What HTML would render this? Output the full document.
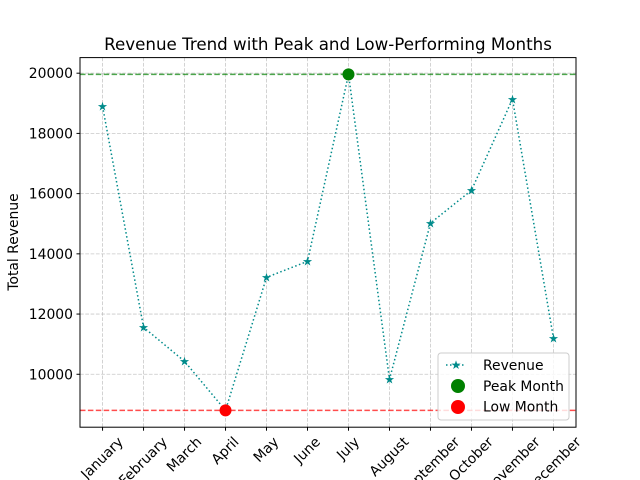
<!DOCTYPE html>
<html><head><meta charset="utf-8"><style>body{margin:0;background:#fff}svg{display:block;font-family:"DejaVu Sans","Liberation Sans",sans-serif}</style></head>
<body>
<svg id="c" width="640" height="480" viewBox="0 0 640 480">
<rect width="640" height="480" fill="#fff"/>
<text x="328" y="50" text-anchor="middle" font-size="16.7">Revenue Trend with Peak and Low-Performing Months</text>
<text transform="translate(18,242) rotate(-90)" text-anchor="middle" font-size="13.9">Total Revenue</text>
<g id="grid"></g><g id="ticks"></g><g id="series"></g>
<rect x="80" y="57.6" width="496" height="369.6" fill="none" stroke="#000" stroke-width="1"/>
<g id="legend">
<rect x="438" y="353" width="131" height="67" rx="3" fill="#fff" fill-opacity="0.8" stroke="#ccc"/>
<line x1="446" y1="365" x2="466" y2="365" stroke="#008b8b" stroke-width="1.5" stroke-dasharray="1.5,2.5"/>
<text x="456" y="369" text-anchor="middle" fill="#008b8b" font-size="12">★</text>
<text x="483" y="370" font-size="13.9">Revenue</text>
<circle cx="458" cy="386" r="7" fill="green"/>
<text x="483" y="391" font-size="13.9">Peak Month</text>
<circle cx="458" cy="407" r="7" fill="red"/>
<text x="483" y="411.5" font-size="13.9">Low Month</text>
</g>
</svg>
<script>
const months=["January","February","March","April","May","June","July","August","September","October","November","December"];
const revenue=[18900,11560,10430,8800,13220,13750,19960,9830,15020,16110,19140,11200];
const yTicks=[10000,12000,14000,16000,18000,20000];
const NS="http://www.w3.org/2000/svg";
const L=80,R=576,T=57.6,B=427.2;
const mn=Math.min(...revenue),mx=Math.max(...revenue),pad=(mx-mn)*0.05;
const y0=mn-pad,y1=mx+pad;
const xs=i=>L+(R-L)*(i+0.55)/(months.length+0.1);
const ys=v=>B-(v-y0)/(y1-y0)*(B-T);
function mk(t,a,p){const e=document.createElementNS(NS,t);for(const k in a)e.setAttribute(k,a[k]);(p||document.getElementById('c')).appendChild(e);return e;}
const g=document.getElementById('grid'),tk=document.getElementById('ticks'),s=document.getElementById('series');
yTicks.forEach(v=>{const y=ys(v);
 const gl=mk('line',{x1:L,x2:R,y1:y,y2:y,stroke:'#b0b0b0','stroke-opacity':0.7,'stroke-dasharray':'3.7,1.6','stroke-width':0.8},g);
 
 
 mk('line',{x1:L-3.5,x2:L,y1:y,y2:y,stroke:'#000'},tk);
 const t=mk('text',{x:L-7,y:y+5,'text-anchor':'end','font-size':13.9},tk);t.textContent=v;
 
 
});
months.forEach((m,i)=>{const x=xs(i);
 const gl=mk('line',{x1:x,x2:x,y1:T,y2:B,stroke:'#b0b0b0','stroke-opacity':0.7,'stroke-dasharray':'3.7,1.6','stroke-width':0.8},g);
 
 
 mk('line',{x1:x,x2:x,y1:B,y2:B+3.5,stroke:'#000'},tk);
 const t=mk('text',{'text-anchor':'middle','dominant-baseline':'central','font-size':13.9},tk);t.textContent=m;
 
 
 const w=t.getComputedTextLength(),h=(w+16)*0.7071;
 t.setAttribute('transform',`translate(${x},${B+7+h/2}) rotate(-45)`);
});
const mxI=revenue.indexOf(mx),mnI=revenue.indexOf(mn);
const pk=mk('line',{x1:L,x2:R,y1:ys(mx),y2:ys(mx),stroke:'green','stroke-opacity':0.7,'stroke-dasharray':'5.5,2.4','stroke-width':1.5},s);


const lw=mk('line',{x1:L,x2:R,y1:ys(mn),y2:ys(mn),stroke:'red','stroke-opacity':0.7,'stroke-dasharray':'5.5,2.4','stroke-width':1.5},s);


const ln=mk('polyline',{points:revenue.map((v,i)=>xs(i)+','+ys(v)).join(' '),fill:'none',stroke:'#008b8b','stroke-width':1.5,'stroke-dasharray':'1.5,2.5'},s);


revenue.forEach((v,i)=>{const t=mk('text',{x:xs(i),y:ys(v)+4.2,'text-anchor':'middle',fill:'#008b8b','font-size':12},s);t.textContent='★';
 
 });
const pc=mk('circle',{cx:xs(mxI),cy:ys(mx),r:6,fill:'green'},s);


const lc=mk('circle',{cx:xs(mnI),cy:ys(mn),r:6,fill:'red'},s);


</script>
</body></html>
